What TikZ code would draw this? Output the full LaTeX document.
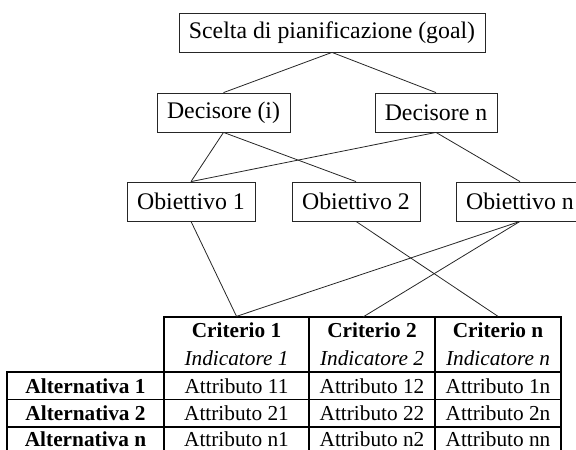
\documentclass[tikz,border=0pt]{standalone}
\usepackage{fontspec}
\setmainfont{Liberation Serif}
\begin{document}
\begin{tikzpicture}[x=1pt,y=-1pt,
  box/.style={draw=black!85,line width=0.8pt,inner sep=0pt,minimum height=39pt,font=\fontsize{23.8}{28}\selectfont},
  cell/.style={draw=black,line width=1.3pt,inner sep=0pt,minimum height=27.5pt,font=\fontsize{21.3}{26}\selectfont},
  lastcell/.style={cell,minimum height=24.5pt},
  hcell/.style={draw=black,line width=1.3pt,inner sep=0pt,minimum height=55pt,align=center,font=\fontsize{21.3}{28}\selectfont},
  altfont/.style={font=\fontsize{21.3}{26}\selectfont\bfseries},
  link/.style={draw=black!85,line width=0.8pt}]
\useasboundingbox (0,0) rectangle (576,450);
\node[box,minimum width=306pt] (goal) at (332,32.5) {Scelta di pianificazione (goal)};
\node[box,minimum width=133pt] (deci) at (223.5,112.5) {Decisore (i)};
\node[box,minimum width=122pt] (decn) at (436,112.5) {Decisore n};
\node[box,minimum width=128pt] (obj1) at (191,201.5) {Obiettivo 1};
\node[box,minimum width=128pt] (obj2) at (356,201.5) {Obiettivo 2};
\node[box,minimum width=128pt] (objn) at (520,201.5) {Obiettivo n};
% table header
\node[hcell,minimum width=145pt] (crit1) at (236.5,344.5) {\bfseries Criterio 1\\\itshape Indicatore 1};
\node[hcell,minimum width=126pt] (crit2) at (372,344.5) {\bfseries Criterio 2\\\itshape Indicatore 2};
\node[hcell,minimum width=126pt] (critn) at (498,344.5) {\bfseries Criterio n\\\itshape Indicatore n};
\coordinate (c2in) at (363,317);
% rows
\node[cell,minimum width=157pt,altfont] (alt1) at (85.5,385.75) {Alternativa 1};
\node[cell,minimum width=145pt] (a11) at (236.5,385.75) {Attributo 11};
\node[cell,minimum width=126pt] (a12) at (372,385.75) {Attributo 12};
\node[cell,minimum width=126pt] (a1n) at (498,385.75) {Attributo 1n};
\node[cell,minimum width=157pt,altfont] (alt2) at (85.5,413.25) {Alternativa 2};
\node[cell,minimum width=145pt] (a21) at (236.5,413.25) {Attributo 21};
\node[cell,minimum width=126pt] (a22) at (372,413.25) {Attributo 22};
\node[cell,minimum width=126pt] (a2n) at (498,413.25) {Attributo 2n};
\node[lastcell,minimum width=157pt,altfont] (altn) at (85.5,439.25) {Alternativa n};
\node[lastcell,minimum width=145pt] (an1) at (236.5,439.25) {Attributo n1};
\node[lastcell,minimum width=126pt] (an2) at (372,439.25) {Attributo n2};
\node[lastcell,minimum width=126pt] (ann) at (498,439.25) {Attributo nn};
% connectors
\draw[link] (goal.south) -- (deci.north);
\draw[link] (goal.south) -- (decn.north);
\draw[link] (deci.south) -- (obj1.north);
\draw[link] (deci.south) -- (obj2.north);
\draw[link] (decn.south) -- (obj1.north);
\draw[link] (decn.south) -- (objn.north);
\draw[link] (obj1.south) -- (crit1.north);
\draw[link] (obj2.south) -- (critn.north);
\draw[link] (objn.south) -- (crit1.north);
\draw[link] (objn.south) -- (c2in);
\end{tikzpicture}
\end{document}
